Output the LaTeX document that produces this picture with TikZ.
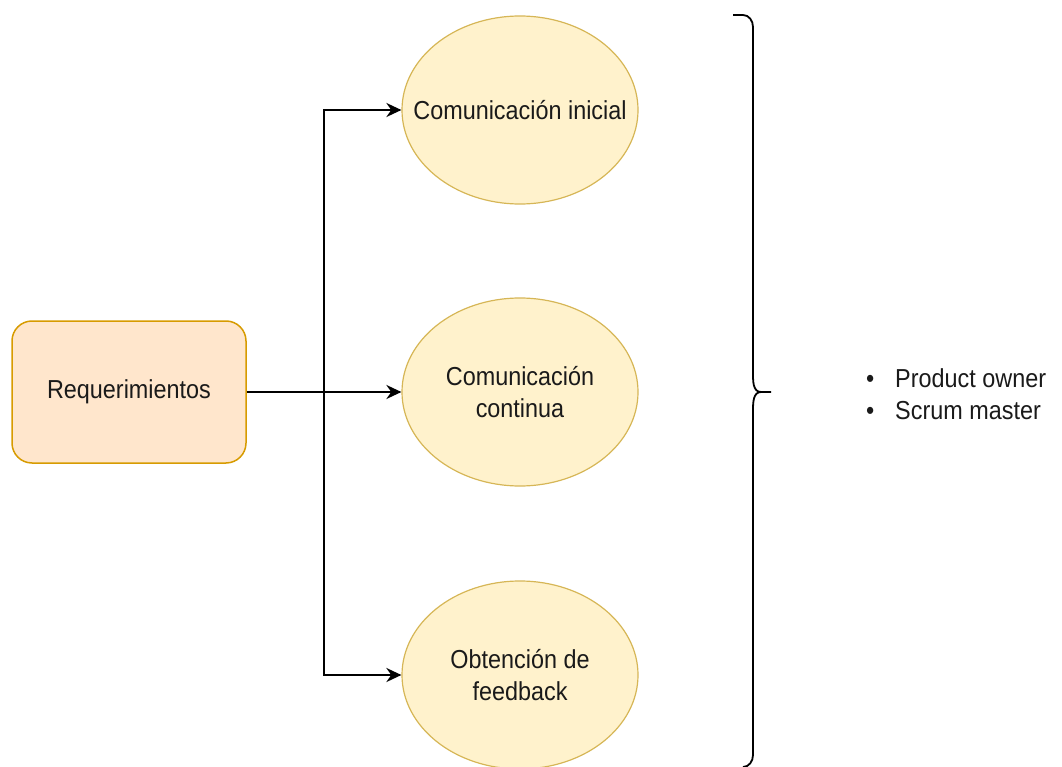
\documentclass[tikz,border=0pt]{standalone}
\usepackage{fontspec}
\setmainfont[FakeStretch=0.9]{Liberation Sans}
\usetikzlibrary{shapes.geometric,arrows.meta}
\definecolor{reqfill}{HTML}{FFE6CC}
\definecolor{reqline}{HTML}{D79B00}
\definecolor{actfill}{HTML}{FFF2CC}
\definecolor{actline}{HTML}{D6B656}
\definecolor{texto}{HTML}{1A1A1A}
\begin{document}
\begin{tikzpicture}[x=1pt, y=-1pt,
    reqbox/.style={draw=reqline, fill=reqfill, line width=1.5pt, rounded corners=20pt,
        minimum width=234pt, minimum height=142pt, text=texto},
    actividad/.style={ellipse, draw=actline, fill=actfill, line width=1.2pt, inner sep=0pt,
        minimum width=236pt, minimum height=188pt, align=center, text=texto},
    flecha/.style={line width=2.2pt, -{Stealth[length=15pt, width=14pt]}}]
    \useasboundingbox (0,0) rectangle (1062,767);
    \fontsize{26}{32}\selectfont

    \node[reqbox] (req) at (129, 392) {Requerimientos};
    \node[actividad] (ci) at (520, 110) {\makebox[120pt]{Comunicación inicial}};
    \node[actividad] (cc) at (520, 392) {Comunicación\\continua};
    \node[actividad] (of) at (520, 675) {Obtención de\\feedback};

    \coordinate (split) at (324, 392);
    \draw[flecha] (req.east) -- (cc.west);
    \draw[flecha] (split) |- (ci.west);
    \draw[flecha] (split) |- (of.west);

    % llave
    \draw[line width=1.8pt] (733,15) -- (743,15) to[out=0, in=90] (753,27)
        -- (753,372) to[out=-90, in=180] (761,392) -- (771,392);
    \draw[line width=1.8pt] (761,392) to[out=180, in=90] (753,410)
        -- (753,755) to[out=-90, in=0] (743,767);

    \node[anchor=west, align=left, inner sep=0pt, text=texto] (roles) at (866, 394)
        {\makebox[29pt][l]{•}Product owner\\\makebox[29pt][l]{•}Scrum master};
\end{tikzpicture}
\end{document}
